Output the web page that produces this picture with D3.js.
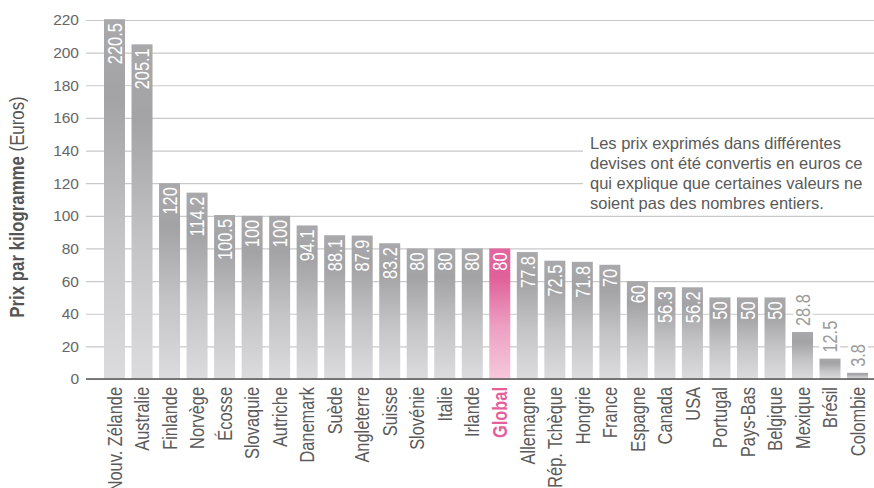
<!DOCTYPE html>
<html>
<head>
<meta charset="utf-8">
<script src="https://cdn.jsdelivr.net/npm/d3@7"></script>
<style>
  html, body { margin: 0; padding: 0; background: #fff; }
  svg { display: block; }
  text { font-family: "Liberation Sans", Arial, Helvetica, sans-serif; }
</style>
</head>
<body>
<div id="chart"></div>
<script>
const countries = ['Nouv. Zélande', 'Australie', 'Finlande', 'Norvège', 'Écosse', 'Slovaquie',
  'Autriche', 'Danemark', 'Suède', 'Angleterre', 'Suisse', 'Slovénie', 'Italie', 'Irlande',
  'Global', 'Allemagne', 'Rép. Tchèque', 'Hongrie', 'France', 'Espagne', 'Canada', 'USA',
  'Portugal', 'Pays-Bas', 'Belgique', 'Mexique', 'Brésil', 'Colombie'];
const prices = [220.5, 205.1, 120, 114.2, 100.5, 100, 100, 94.1, 88.1, 87.9, 83.2, 80, 80, 80,
  80, 77.8, 72.5, 71.8, 70, 60, 56.3, 56.2, 50, 50, 50, 28.8, 12.5, 3.8];
const yTicks = [0, 20, 40, 60, 80, 100, 120, 140, 160, 180, 200, 220];
const highlight = 'Global';
const note = [
  'Les prix exprimés dans différentes',
  'devises ont été convertis en euros ce',
  'qui explique que certaines valeurs ne',
  'soient pas des nombres entiers.'
];

const width = 874;
const height = 488;
const margin = { top: 20, right: 0, bottom: 109, left: 86 };
// vertical texts in the original are set in a condensed face
const NARROW = 0.82;

const svg = d3.select('#chart')
  .append('svg')
  .attr('width', width)
  .attr('height', height);

const defs = svg.append('defs');

function gradient (id, stops) {
  const g = defs.append('linearGradient')
    .attr('id', id)
    .attr('x1', 0).attr('y1', 0)
    .attr('x2', 0).attr('y2', 1);
  stops.forEach(([offset, color]) => {
    g.append('stop').attr('offset', offset).attr('stop-color', color);
  });
}

gradient('bar-grey', [[0, '#a9a9ac'], [0.22, '#a3a3a6'], [0.6, '#c4c4c6'], [1, '#dcdcde']]);
gradient('bar-pink', [[0, '#e2679e'], [0.22, '#e0609a'], [0.6, '#eda0c2'], [1, '#f6c8dc']]);

const x = d3.scaleBand()
  .domain(countries)
  .range([101.25, 870.8])
  .paddingInner(0.237)
  .paddingOuter(0.1);

const y = d3.scaleLinear()
  .domain([0, 220])
  .range([height - margin.bottom, margin.top]);

// grid lines + tick labels
const axis = svg.append('g')
  .attr('transform', `translate(${margin.left},0)`)
  .call(d3.axisLeft(y)
    .tickValues(yTicks)
    .tickSize(-(width - margin.left))
    .tickPadding(7));

axis.select('.domain').remove();
axis.attr('font-family', null);
axis.selectAll('.tick line')
  .attr('stroke', '#c9c9c9')
  .attr('stroke-width', 1.2);
axis.selectAll('.tick text')
  .attr('fill', '#666')
  .style('font-size', '15.5px');

// white box behind the note hides the grid lines
svg.append('rect')
  .attr('x', 583)
  .attr('y', 126)
  .attr('width', width - 583)
  .attr('height', 86)
  .attr('fill', '#fff');

svg.append('text')
  .attr('fill', '#5a5a5a')
  .style('font-size', '16.5px')
  .selectAll('tspan')
  .data(note)
  .enter()
  .append('tspan')
  .attr('x', 590)
  .attr('y', (d, i) => 149 + i * 20)
  .text((d) => d);

const data = countries.map((name, i) => ({ name, value: prices[i] }));

svg.append('g')
  .selectAll('rect')
  .data(data)
  .enter()
  .append('rect')
  .attr('x', (d) => x(d.name))
  .attr('y', (d) => y(d.value))
  .attr('width', x.bandwidth())
  .attr('height', (d) => y(0) - y(d.value))
  .attr('fill', (d) => d.name === highlight ? 'url(#bar-pink)' : 'url(#bar-grey)');

// baseline
svg.append('line')
  .attr('x1', margin.left)
  .attr('x2', width)
  .attr('y1', y(0))
  .attr('y2', y(0))
  .attr('stroke', '#555')
  .attr('stroke-width', 1.5);

// value labels, inside the bar when there is room for them
const labelFits = (d) => y(0) - y(d.value) > 60;

svg.append('g')
  .selectAll('text')
  .data(data)
  .enter()
  .append('text')
  .attr('transform', (d) => {
    const cx = x(d.name) + x.bandwidth() / 2;
    const ty = labelFits(d) ? y(d.value) + 4 : y(d.value) - 6;
    return `translate(${cx},${ty}) rotate(-90) scale(${NARROW},1)`;
  })
  .attr('text-anchor', (d) => labelFits(d) ? 'end' : 'start')
  .attr('dy', '0.36em')
  .style('font-size', '20px')
  .attr('fill', (d) => labelFits(d) ? '#fff' : '#9c9c9c')
  .attr('stroke', (d) => labelFits(d) ? 'none' : '#fff')
  .attr('stroke-width', 6)
  .attr('paint-order', 'stroke')
  .text((d) => String(d.value));

// category labels
svg.append('g')
  .selectAll('text')
  .data(data)
  .enter()
  .append('text')
  .attr('transform', (d) => `translate(${x(d.name) + x.bandwidth() / 2},${y(0) + 8}) rotate(-90) scale(${NARROW},1)`)
  .attr('text-anchor', 'end')
  .attr('dy', '0.36em')
  .style('font-size', '20px')
  .style('font-weight', (d) => d.name === highlight ? 'bold' : null)
  .attr('fill', (d) => d.name === highlight ? '#e4609a' : '#5a5a5a')
  .text((d) => d.name);

// y axis title
const title = svg.append('text')
  .attr('transform', `translate(17,207) rotate(-90) scale(${NARROW},1)`)
  .attr('text-anchor', 'middle')
  .attr('dy', '0.36em')
  .attr('fill', '#555')
  .style('font-size', '20.5px');

title.append('tspan').style('font-weight', 'bold').text('Prix par kilogramme');
title.append('tspan').text(' (Euros)');
</script>
</body>
</html>
